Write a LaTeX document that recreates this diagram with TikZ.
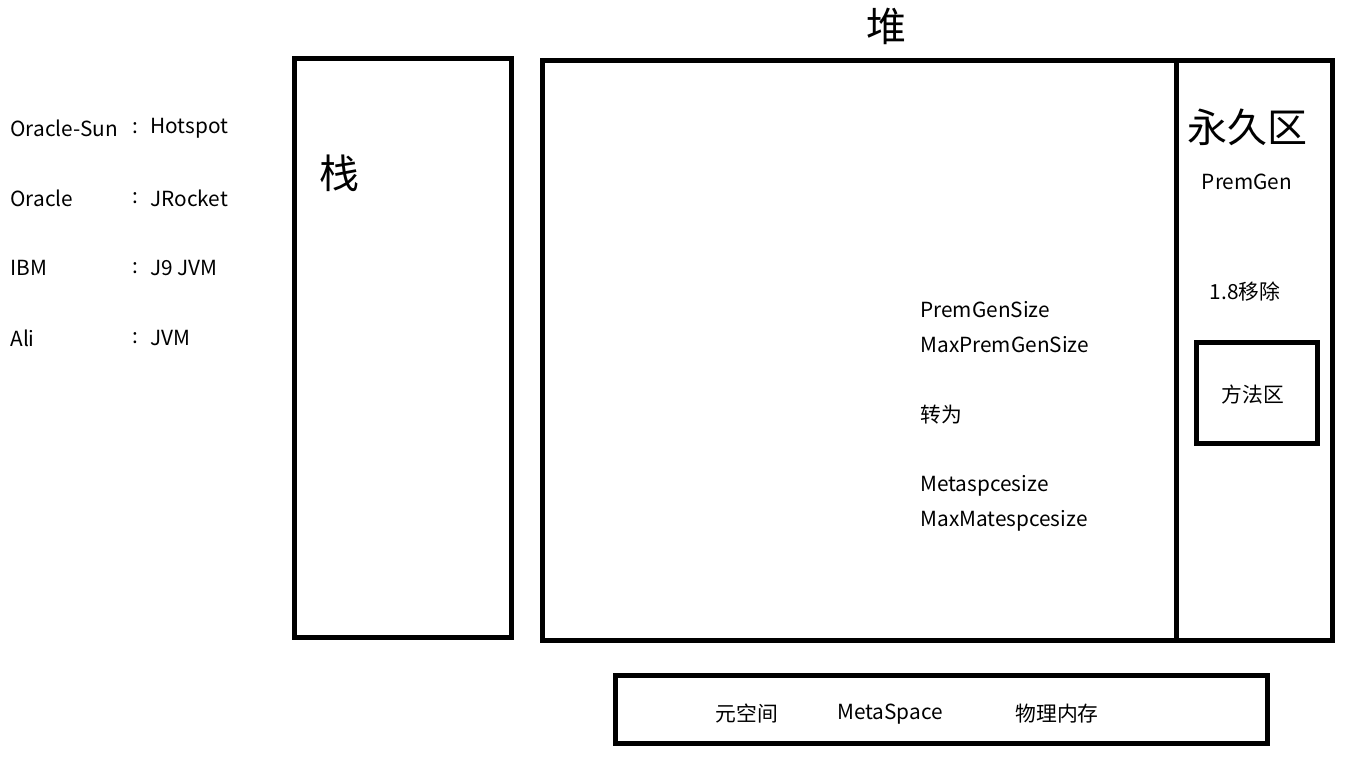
\documentclass[tikz,border=0pt]{standalone}
\usepackage{fontspec}
\setmainfont{Noto Sans CJK SC}
\usepackage{tikz}

\tikzset{
  region/.style={line width=2.5pt},
  txt/.style={font=\fontsize{10.4}{12}\selectfont, inner sep=0pt},
  bigtxt/.style={font=\fontsize{20}{24}\selectfont, inner sep=0pt},
}

\begin{document}
\begin{tikzpicture}[x=0.5pt, y=-0.5pt]
\useasboundingbox (0,0) rectangle (1370,774);

% Vendors
\node[txt, anchor=west] (v1) at (10,128) {Oracle-Sun};
\node[txt, anchor=west] (v2) at (10,198) {Oracle};
\node[txt, anchor=west] (v3) at (10,268) {IBM};
\node[txt, anchor=west] (v4) at (10,338) {Ali};
\foreach \y/\name [count=\i] in {128/Hotspot, 198/JRocket, 268/J9 JVM, 338/JVM} {
  \node[txt] (c\i) at (135,\y) {:};
  \node[txt, anchor=west] (j\i) at (150,\y) {\name};
}

% Stack
\draw[region] (294,59) rectangle (511,637);
\node[bigtxt] (stack) at (339,173) {栈};

% Heap
\node[bigtxt] (heap) at (886,26) {堆};
\draw[region] (542,61) rectangle (1332,640);
\draw[region] (1176,61) -- (1176,640);

% Heap notes
\node[txt, anchor=west] (s1) at (920,310) {PremGenSize};
\node[txt, anchor=west] (s2) at (920,345) {MaxPremGenSize};
\node[txt, anchor=west] (s3) at (920,415) {转为};
\node[txt, anchor=west] (s4) at (920,486) {Metaspcesize};
\node[txt, anchor=west] (s5) at (920,521) {MaxMatespcesize};

% Permanent generation
\node[bigtxt] (perm) at (1247,127) {永久区};
\node[txt] (premgen) at (1247,182) {PremGen};
\node[txt] (removed) at (1245,292) {1.8移除};
\draw[region] (1196,343) rectangle (1317,444);
\node[txt] (method) at (1253,395) {方法区};

% Metaspace
\draw[region] (615,675) rectangle (1267,743);
\node[txt] (meta1) at (747,714) {元空间};
\node[txt] (meta2) at (890,714) {MetaSpace};
\node[txt] (meta3) at (1057,714) {物理内存};
\end{tikzpicture}
\end{document}
